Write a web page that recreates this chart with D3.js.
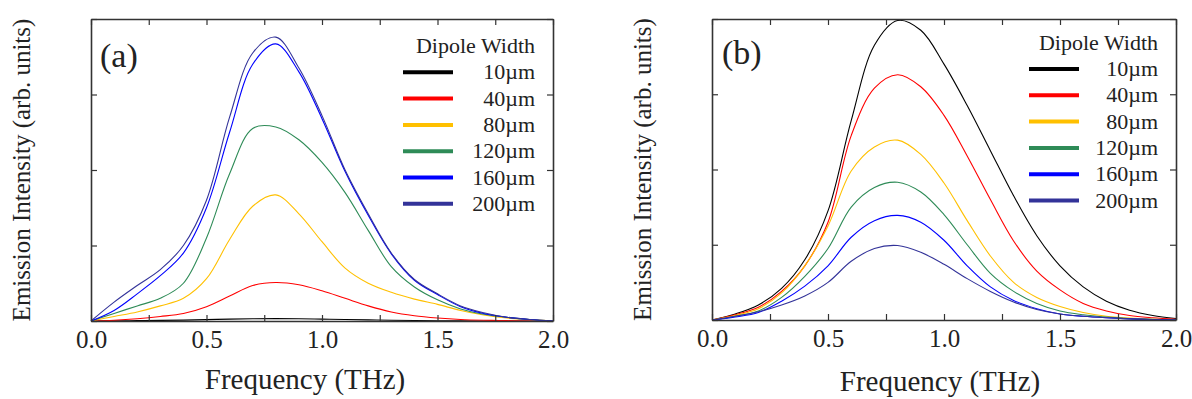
<!DOCTYPE html>
<html>
<head>
<meta charset="utf-8">
<script src="https://cdn.jsdelivr.net/npm/d3@7"></script>
<style>
  html, body { margin: 0; padding: 0; background: #fff; }
  svg text { font-family: "Liberation Serif", "Times New Roman", serif; fill: #222; }
</style>
</head>
<body>
<svg id="chart" width="1192" height="399"></svg>
<script>
// ---------------- data ----------------
const freq = [0.0,0.1,0.2,0.3,0.4,0.5,0.6,0.7,0.8,0.9,1.0,1.1,1.2,1.3,1.4,1.5,1.6,1.7,1.8,1.9,2.0];
const widths = ["10µm","40µm","80µm","120µm","160µm","200µm"];
const colors = ["#000000","#ff0000","#ffc000","#2e8b57","#0000ff","#333399"];
const xTickLabels = ["0.0","0.5","1.0","1.5","2.0"];

// panel (a)
const a10  = [0,0.002,0.005,0.008,0.012,0.018,0.025,0.03,0.032,0.03,0.025,0.02,0.015,0.01,0.006,0.003,0.002,0.001,0,0,0];
const a40  = [0,0.01,0.03,0.06,0.1,0.19,0.33,0.47,0.51,0.48,0.4,0.3,0.2,0.12,0.07,0.04,0.02,0.01,0.005,0,0];
const a80  = [0,0.06,0.12,0.2,0.3,0.56,1.08,1.52,1.67,1.42,1.05,0.7,0.5,0.38,0.29,0.22,0.14,0.08,0.04,0.02,0];
const a120 = [0,0.1,0.2,0.3,0.5,1.1,1.95,2.55,2.57,2.4,2.1,1.7,1.2,0.72,0.45,0.28,0.16,0.09,0.05,0.02,0];
const a160 = [0,0.14,0.36,0.6,0.9,1.5,2.5,3.4,3.67,3.3,2.68,1.98,1.4,0.89,0.54,0.35,0.19,0.1,0.05,0.02,0];
const a200 = [0,0.25,0.47,0.68,1.0,1.6,2.7,3.55,3.76,3.35,2.72,2.0,1.42,0.9,0.55,0.36,0.2,0.11,0.05,0.02,0];

// panel (b)
const b10  = [0,0.08,0.2,0.42,0.8,1.45,2.65,3.65,3.98,3.85,3.4,2.85,2.25,1.65,1.12,0.72,0.44,0.25,0.13,0.06,0.02];
const b40  = [0,0.07,0.17,0.38,0.72,1.3,2.45,3.08,3.26,3.1,2.72,2.18,1.6,1.05,0.65,0.4,0.22,0.12,0.06,0.03,0.01];
const b80  = [0,0.06,0.15,0.36,0.72,1.25,1.98,2.3,2.39,2.2,1.82,1.32,0.85,0.5,0.3,0.18,0.1,0.05,0.025,0.01,0];
const b120 = [0,0.05,0.12,0.3,0.58,0.95,1.5,1.76,1.83,1.7,1.4,1.0,0.62,0.38,0.22,0.12,0.07,0.04,0.02,0.01,0];
const b160 = [0,0.04,0.1,0.25,0.45,0.72,1.1,1.32,1.39,1.3,1.06,0.72,0.44,0.26,0.15,0.08,0.05,0.03,0.015,0.005,0];
const b200 = [0,0.05,0.11,0.2,0.32,0.5,0.78,0.95,0.99,0.9,0.74,0.55,0.38,0.24,0.14,0.08,0.05,0.03,0.015,0.005,0];

const panels = [
  { label: "(a)", series: [a10,a40,a80,a120,a160,a200],
    box: {x0: 91, x1: 553, y0: 19, y1: 321}, ylabX: 30, xlabX: 305, xlabY: 389,
    tagX: 100, tagY: 67,
    leg: {titleY: 53, rowY: 72.3, lineX0: 403, lineX1: 453, textX: 535} },
  { label: "(b)", series: [b10,b40,b80,b120,b160,b200],
    box: {x0: 712, x1: 1176, y0: 19, y1: 320}, ylabX: 651, xlabX: 940, xlabY: 391,
    tagX: 722, tagY: 64,
    leg: {titleY: 50, rowY: 69, lineX0: 1029, lineX1: 1079, textX: 1158} }
];

const svg = d3.select("#chart");
const xTicks = d3.range(0, 2.0001, 0.25);
const yTicks = [0,1,2,3,4];

panels.forEach(p => {
  const b = p.box;
  const x = d3.scaleLinear().domain([0, 2]).range([b.x0, b.x1]);
  const y = d3.scaleLinear().domain([0, 4]).range([b.y1, b.y0]);
  const g = svg.append("g");

  // curves
  const line = d3.line()
    .x((d, i) => x(freq[i]))
    .y(d => y(d))
    .curve(d3.curveCatmullRom.alpha(0.5));
  p.series.forEach((s, k) => {
    g.append("path").datum(s)
      .attr("d", line)
      .attr("fill", "none")
      .attr("stroke", colors[k])
      .attr("stroke-width", 1.1);
  });

  // axes (frame with inward ticks)
  const fmt = d => {
    const idx = Math.round(d / 0.5);
    return Math.abs(d - idx * 0.5) < 1e-6 ? xTickLabels[idx] : "";
  };
  const styleAxis = sel => {
    sel.selectAll(".domain").attr("stroke", "#333").attr("stroke-width", 1.6);
    sel.selectAll(".tick line").attr("stroke", "#333").attr("stroke-width", 1.2);
  };
  g.append("g").attr("transform", `translate(0,${b.y1})`)
    .call(d3.axisBottom(x).tickValues(xTicks).tickFormat(fmt).tickSize(-6).tickSizeOuter(0).tickPadding(9))
    .call(styleAxis)
    .call(s => s.selectAll("text").attr("font-size", 25).attr("font-family", "Liberation Serif").attr("fill", "#222"));
  g.append("g").attr("transform", `translate(0,${b.y0})`)
    .call(d3.axisTop(x).tickValues(xTicks).tickFormat("").tickSize(-6).tickSizeOuter(0))
    .call(styleAxis);
  g.append("g").attr("transform", `translate(${b.x0},0)`)
    .call(d3.axisLeft(y).tickValues(yTicks).tickFormat("").tickSize(-6).tickSizeOuter(0))
    .call(styleAxis);
  g.append("g").attr("transform", `translate(${b.x1},0)`)
    .call(d3.axisRight(y).tickValues(yTicks).tickFormat("").tickSize(-6).tickSizeOuter(0))
    .call(styleAxis);

  // axis titles
  g.append("text")
    .attr("x", p.xlabX).attr("y", p.xlabY)
    .attr("text-anchor", "middle").attr("font-size", 29)
    .text("Frequency (THz)");
  g.append("text")
    .attr("transform", `translate(${p.ylabX},${(b.y0 + b.y1) / 2}) rotate(-90)`)
    .attr("text-anchor", "middle").attr("font-size", 25)
    .text("Emission Intensity (arb. units)");

  // panel tag
  g.append("text")
    .attr("x", p.tagX).attr("y", p.tagY)
    .attr("font-size", 34)
    .text(p.label);

  // legend
  const L = p.leg;
  g.append("text")
    .attr("x", L.textX).attr("y", L.titleY)
    .attr("text-anchor", "end").attr("font-size", 22)
    .text("Dipole Width");
  widths.forEach((w, k) => {
    const ry = L.rowY + k * 26.3;
    g.append("line")
      .attr("x1", L.lineX0).attr("x2", L.lineX1)
      .attr("y1", ry).attr("y2", ry)
      .attr("stroke", colors[k]).attr("stroke-width", 4);
    g.append("text")
      .attr("x", L.textX).attr("y", ry + 7)
      .attr("text-anchor", "end").attr("font-size", 22)
      .text(w);
  });
});
</script>
</body>
</html>
